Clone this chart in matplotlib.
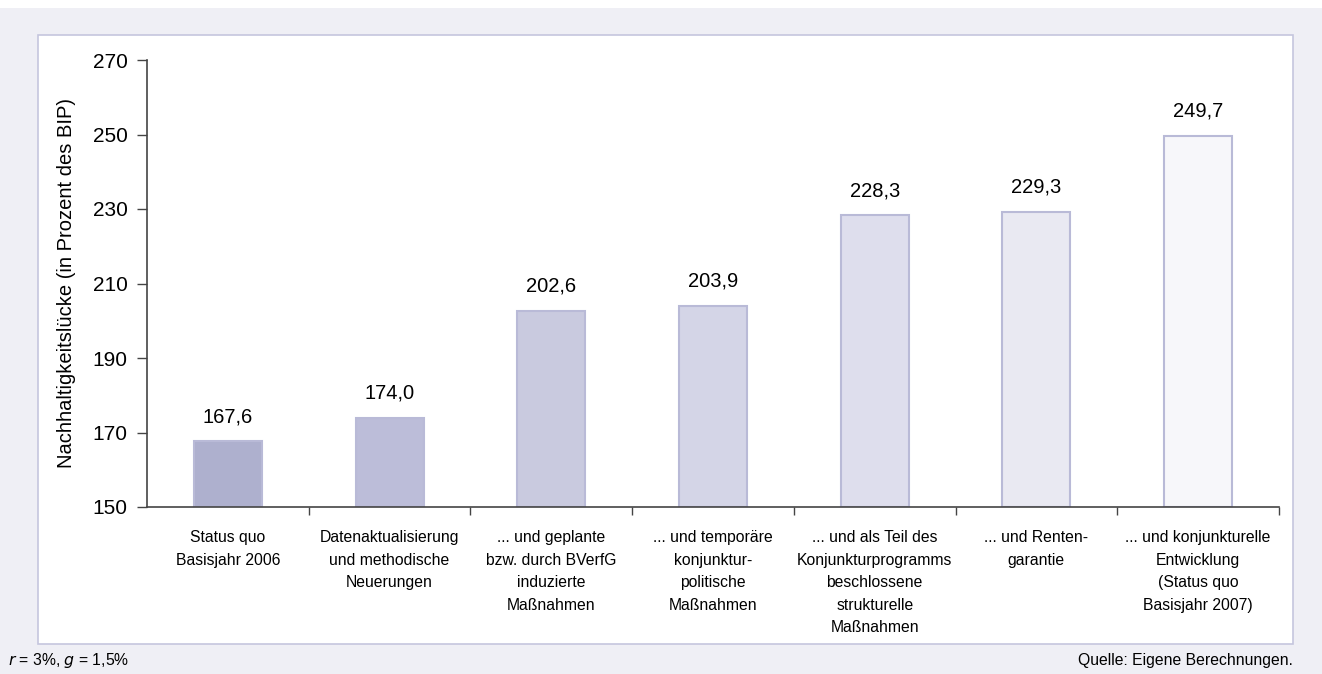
import matplotlib
matplotlib.use('Agg')
from matplotlib import pyplot as plt
import matplotlib.patches as mpatches
import numpy as np

plt.rcParams['font.family'] = ['Liberation Sans', 'DejaVu Sans']

categories = ['Status quo\nBasisjahr 2006',
              'Datenaktualisierung\nund methodische\nNeuerungen',
              '... und geplante\nbzw. durch BVerfG\ninduzierte\nMaßnahmen',
              '... und temporäre\nkonjunktur-\npolitische\nMaßnahmen',
              '... und als Teil des\nKonjunkturprogramms\nbeschlossene\nstrukturelle\nMaßnahmen',
              '... und Renten-\ngarantie',
              '... und konjunkturelle\nEntwicklung\n(Status quo\nBasisjahr 2007)']
values = [167.6, 174.0, 202.6, 203.9, 228.3, 229.3, 249.7]
labels = ['167,6', '174,0', '202,6', '203,9', '228,3', '229,3', '249,7']
colors = ['#aeb0ce', '#bcbdd9', '#c9cadf', '#d4d5e7', '#dedeed', '#e9e9f2', '#f7f7fa']
yticks = [150, 170, 190, 210, 230, 250, 270]

fig = plt.figure(figsize=(13.22, 6.74), dpi=100, facecolor='#efeff5')
# white band on top
fig.patches.append(mpatches.Rectangle((0, 1 - 8/674), 1, 8/674, transform=fig.transFigure,
                                      facecolor='white', edgecolor='none', zorder=-2))
# white panel
fig.patches.append(mpatches.Rectangle((38/1322, 1 - 644/674), (1293-38)/1322, (644-35)/674,
                                      transform=fig.transFigure, facecolor='white',
                                      edgecolor='#c5c6de', linewidth=1.2, zorder=-2))

ax = fig.add_axes([147/1322, 1 - 507/674, (1279-147)/1322, (507-60)/674])
ax.set_zorder(2)
ax.set_facecolor('none')
x = np.arange(len(values))
ax.bar(x, [v - 150 for v in values], bottom=150, width=0.42, color=colors,
       edgecolor='#b9bad7', linewidth=1.5, zorder=2)
for xi, v, l in zip(x, values, labels):
    ax.annotate(l, (xi, v), xytext=(0, 11), textcoords='offset points',
                ha='center', va='bottom', fontsize=14.5)

ax.set_xlim(-0.5, 6.5)
ax.set_ylim(150, 270)
ax.set_yticks(yticks)
ax.set_yticklabels([str(t) for t in yticks], fontsize=15)
ax.set_xticks(np.arange(0.5, 7.0, 1.0))
ax.set_xticklabels([])
ax.tick_params(axis='y', length=7, width=1, color='#444444', pad=7)
ax.tick_params(axis='x', length=6, width=1, color='#444444', direction='out')
for s in ['top', 'right']:
    ax.spines[s].set_visible(False)
for s in ['left', 'bottom']:
    ax.spines[s].set_color('#444444')
    ax.spines[s].set_linewidth(1.2)

for xi, c in zip(x, categories):
    ax.text(xi, -0.052, c, transform=ax.get_xaxis_transform(), ha='center', va='top',
            fontsize=11.3, linespacing=1.62)

ax.set_ylabel('Nachhaltigkeitslücke (in Prozent des BIP)', fontsize=14.5, labelpad=12)

fig.text(8/1322, 1 - 660/674, r'$\it{r}$ = 3%, $\it{g}$ = 1,5%', fontsize=11.3, va='center', ha='left')
fig.text(1293/1322, 1 - 660/674, 'Quelle: Eigene Berechnungen.', fontsize=11.3, va='center', ha='right')

fig.savefig('out.png', dpi=100, facecolor=fig.get_facecolor())
